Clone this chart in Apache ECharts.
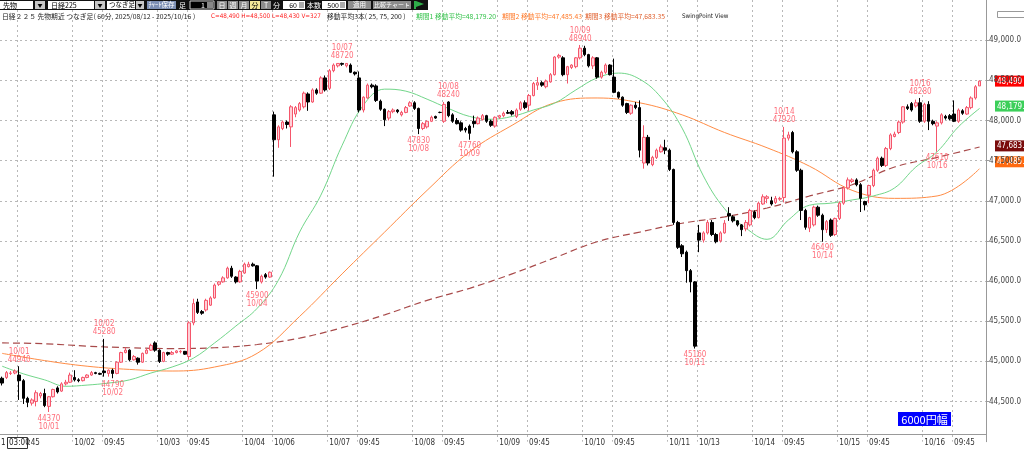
<!DOCTYPE html>
<html>
<head>
<meta charset="utf-8">
<style>
  html, body { margin: 0; padding: 0; background: #fff; }
  #chart { width: 1024px; height: 450px; }
</style>
<script src="https://cdn.jsdelivr.net/npm/echarts@6/dist/echarts.min.js"></script>
</head>
<body>
<div id="chart"></div>
<script>
// ---- time axis (60 min bars, 2025/10/01 03:00 - 2025/10/16 15:45) ----
const earlyHours = ['00:00', '01:00', '02:00', '03:00', '04:00', '05:00', '06:00'];
const dayHours = ['09:45', '10:45', '11:45', '12:45', '13:45', '14:45', '15:45'];
const lateHours = ['18:00', '19:00', '20:00', '21:00', '22:00', '23:00'];
const sessionDates = ['10/01', '10/02', '10/03', '10/04', '10/06', '10/07', '10/08', '10/09', '10/10', '10/11', '10/13', '10/14', '10/15', '10/16'];
const sessionKinds = ['first', 'full', 'full', 'sat', 'mon', 'full', 'full', 'full', 'full', 'sat', 'mon', 'full', 'full', 'last'];

// [open, close, low, high]
const candles = [
  // 10/01
  [44790, 44730, 44700, 44810], [44800, 44860, 44780, 44880], [44850, 44855, 44830, 44880], [44855, 44880, 44840, 44900],
  [44830, 44760, 44520, 44940], [44760, 44540, 44470, 44780], [44540, 44490, 44430, 44560], [44480, 44520, 44450, 44540],
  [44500, 44610, 44440, 44640], [44570, 44600, 44540, 44620], [44600, 44450, 44430, 44660], [44440, 44560, 44370, 44570],
  [44560, 44650, 44550, 44660], [44670, 44620, 44600, 44690], [44630, 44720, 44620, 44740], [44720, 44740, 44700, 44770],
  [44740, 44830, 44730, 44860],
  // 10/02
  [44800, 44770, 44750, 44890], [44770, 44760, 44740, 44790], [44760, 44800, 44750, 44810], [44800, 44830, 44790, 44840],
  [44830, 44860, 44820, 44880], [44860, 44850, 44840, 44870], [44850, 44840, 44830, 44860], [44880, 44860, 44810, 45280],
  [44850, 44890, 44810, 44900], [44890, 44850, 44790, 44910], [44850, 44990, 44840, 45000], [44990, 45110, 44980, 45120],
  [45110, 45140, 45100, 45170], [45140, 45020, 45000, 45150], [45020, 45060, 45010, 45080], [45040, 44990, 44960, 45050],
  [44990, 45100, 44980, 45110], [45100, 45140, 45090, 45160], [45140, 45200, 45130, 45220], [45230, 45140, 45120, 45250],
  // 10/03
  [45140, 45000, 44980, 45150], [45000, 45110, 44990, 45120], [45110, 45090, 45070, 45120], [45090, 45110, 45080, 45130],
  [45110, 45130, 45100, 45140], [45120, 45125, 45100, 45140], [45125, 45090, 45080, 45130], [45060, 45480, 45020, 45500],
  [45480, 45720, 45450, 45780], [45740, 45610, 45590, 45780], [45620, 45600, 45580, 45640], [45640, 45760, 45620, 45780],
  [45700, 45790, 45690, 45810], [45790, 45950, 45780, 45970], [45960, 45990, 45940, 46000], [45990, 46040, 45980, 46060],
  [46040, 46160, 46030, 46180], [46160, 46060, 46040, 46190], [46050, 45990, 45970, 46060], [45990, 46120, 45980, 46140],
  // 10/04
  [46100, 46210, 46090, 46230], [46180, 46210, 46170, 46240], [46210, 46190, 46180, 46230], [46190, 46000, 45900, 46200],
  [45990, 46060, 45970, 46080], [46080, 46050, 46030, 46100], [46050, 46110, 46040, 46120],
  // 10/06
  [48070, 47760, 47300, 48110], [47760, 47920, 47660, 47940], [47900, 47980, 47880, 48000], [47980, 47950, 47900, 48000],
  [47920, 48170, 47670, 48190], [48080, 48160, 48040, 48180], [48130, 48210, 48110, 48230], [48170, 48340, 48150, 48360],
  [48330, 48230, 48120, 48350], [48230, 48380, 48220, 48400], [48380, 48340, 48320, 48400], [48340, 48530, 48330, 48550],
  [48530, 48380, 48360, 48560],
  // 10/07
  [48400, 48620, 48380, 48640], [48620, 48690, 48600, 48710], [48680, 48710, 48660, 48715], [48710, 48700, 48680, 48720],
  [48680, 48710, 48660, 48715], [48690, 48600, 48590, 48710], [48600, 48580, 48560, 48610], [48530, 48130, 48100, 48610],
  [48130, 48290, 48100, 48300], [48280, 48440, 48270, 48460], [48440, 48420, 48400, 48460], [48430, 48250, 48230, 48450],
  [48240, 48140, 48120, 48260], [48140, 48010, 47930, 48150], [48030, 48110, 48000, 48130], [48110, 48130, 48090, 48150],
  [48130, 48110, 48090, 48140], [48070, 48100, 48050, 48120], [48100, 48160, 48090, 48180], [48180, 48220, 48170, 48240],
  // 10/08
  [48220, 48150, 48130, 48240], [48150, 47900, 47830, 48160], [47900, 47960, 47880, 47980], [47920, 47990, 47900, 48000],
  [47990, 48040, 47980, 48060], [48050, 48030, 48020, 48060], [48100, 48100, 48090, 48110], [47990, 48200, 47970, 48230],
  [48230, 48060, 48040, 48240], [48070, 47990, 47970, 48090], [48000, 47960, 47950, 48030], [47970, 47880, 47860, 47990],
  [47900, 47880, 47850, 47920], [47930, 47840, 47760, 47950], [47990, 47960, 47910, 48060], [47960, 48030, 47950, 48050],
  [48010, 48060, 48000, 48080], [48060, 47990, 47970, 48070], [47990, 47940, 47920, 48010], [47930, 48040, 47910, 48050],
  // 10/09
  [48040, 48060, 48020, 48070], [48060, 48090, 48040, 48110], [48100, 48090, 48080, 48130], [48110, 48080, 48060, 48130],
  [48050, 48130, 48030, 48150], [48140, 48220, 48120, 48240], [48220, 48160, 48140, 48250], [48190, 48310, 48120, 48330],
  [48310, 48460, 48300, 48480], [48440, 48470, 48380, 48540], [48470, 48440, 48420, 48490], [48420, 48490, 48400, 48510],
  [48480, 48570, 48470, 48590], [48570, 48790, 48560, 48800], [48790, 48810, 48770, 48830], [48780, 48570, 48550, 48800],
  [48570, 48670, 48460, 48680], [48660, 48690, 48640, 48700], [48670, 48780, 48650, 48790], [48780, 48900, 48760, 48940],
  // 10/10
  [48900, 48820, 48800, 48930], [48820, 48680, 48660, 48830], [48680, 48780, 48640, 48800], [48780, 48540, 48520, 48790],
  [48540, 48600, 48520, 48620], [48600, 48690, 48580, 48710], [48690, 48570, 48560, 48700], [48540, 48350, 48340, 48770],
  [48350, 48290, 48270, 48360], [48290, 48190, 48170, 48300], [48210, 48100, 48080, 48220], [48090, 48190, 48070, 48200],
  [48190, 48160, 48140, 48230], [48160, 47630, 47540, 48250], [47470, 47790, 47400, 47940], [47790, 47470, 47440, 47820],
  [47450, 47540, 47430, 47560], [47540, 47630, 47520, 47650], [47610, 47670, 47600, 47700], [47660, 47630, 47580, 47760],
  // 10/11
  [47630, 47390, 47370, 47650], [47390, 46730, 46700, 47400], [46730, 46420, 46400, 46750], [46440, 46340, 46300, 46460],
  [46360, 46130, 45980, 46380], [46130, 45990, 45860, 46150], [45990, 45190, 45160, 46000],
  // 10/13
  [46600, 46510, 46360, 46700], [46510, 46600, 46480, 46620], [46600, 46730, 46580, 46760], [46730, 46580, 46560, 46760],
  [46580, 46490, 46470, 46600], [46500, 46600, 46480, 46620], [46600, 46720, 46590, 46760], [46840, 46810, 46750, 46920],
  [46800, 46750, 46730, 46820], [46750, 46700, 46680, 46760], [46700, 46640, 46560, 46710], [46650, 46730, 46620, 46760],
  [46700, 46880, 46680, 46900],
  // 10/14
  [46860, 46790, 46770, 46880], [46790, 46970, 46780, 46990], [46960, 47050, 46950, 47080], [47030, 47050, 46970, 47070],
  [47000, 46960, 46940, 47050], [46980, 47030, 46960, 47060], [47020, 47030, 47000, 47050], [47040, 47780, 46980, 47920],
  [47780, 47820, 47750, 47860], [47850, 47610, 47590, 47870], [47610, 47380, 47360, 47630], [47380, 46880, 46760, 47400],
  [46880, 46670, 46640, 46900], [46660, 46790, 46610, 46800], [46700, 46920, 46680, 46940], [46920, 46820, 46800, 46940],
  [46820, 46640, 46490, 46840], [46640, 46740, 46600, 46760], [46760, 46570, 46550, 46780], [46580, 46780, 46560, 46790],
  // 10/15
  [46780, 46970, 46760, 46990], [46970, 47160, 46950, 47180], [47160, 47260, 47140, 47290], [47240, 47260, 47220, 47280],
  [47260, 47200, 47180, 47280], [47200, 47030, 46860, 47220], [46990, 46950, 46880, 47000], [47070, 47190, 46970, 47200],
  [47190, 47380, 47170, 47400], [47380, 47530, 47360, 47550], [47530, 47440, 47420, 47550], [47440, 47650, 47420, 47670],
  [47650, 47820, 47630, 47840], [47800, 47830, 47790, 47860], [47850, 47980, 47830, 48000], [47980, 48170, 47960, 48180],
  [48170, 48150, 48130, 48200], [48210, 48130, 48110, 48230], [48180, 48220, 48160, 48260], [48220, 47990, 47970, 48280],
  // 10/16
  [47990, 48200, 47970, 48220], [48200, 47990, 47880, 48240], [47990, 47960, 47940, 48010], [47930, 47970, 47610, 47990],
  [47970, 48070, 47950, 48090], [48050, 48030, 48010, 48070], [48060, 48020, 48000, 48080], [48080, 47990, 47980, 48250],
  [47990, 48130, 47970, 48150], [48120, 48090, 48070, 48140], [48080, 48160, 48070, 48180], [48160, 48280, 48140, 48300],
  [48280, 48420, 48260, 48440], [48430, 48490, 48430, 48500]
];

const ma25 = [44940, 44845, 44770, 44690, 44705, 44730, 44770, 44855, 44930, 45040, 45230, 45440, 45660, 46010, 46610, 47070,
  47690, 48190, 48390, 48365, 48265, 48150, 48050, 48015, 48050, 48130, 48215, 48380, 48530, 48590, 48515, 48290, 47905, 47310,
  46900, 46660, 46520, 46760, 46945, 46970, 47010, 47060, 47160, 47420, 47610, 47920, 48150];
const ma75 = [45100, 45010, 44940, 44900, 44880, 44930, 45100, 45560, 46090, 46610, 47130, 47610, 47940, 48220, 48280, 48220,
  48070, 47850, 47660, 47430, 47130, 47030, 47060, 47400];
const ma200 = [45230, 45220, 45190, 45170, 45160, 45170, 45210, 45290, 45420, 45580, 45760, 45910, 46090, 46290, 46490, 46610,
  46720, 46800, 46910, 47060, 47200, 47420, 47540, 47670];

// swing points
const swingIdx = [4, 11, 24, 26, 60, 80, 98, 105, 110, 136, 163, 184, 193, 216, 220];
const swingVal = [44940, 44370, 45280, 44790, 45900, 48720, 47830, 48240, 47760, 48940, 45160, 47920, 46490, 48280, 47610];
const swingDate = ['10/01', '10/01', '10/02', '10/02', '10/04', '10/07', '10/08', '10/08', '10/09', '10/09', '10/11', '10/14', '10/14', '10/16', '10/16'];
const swingKind = ['H', 'L', 'H', 'L', 'L', 'H', 'L', 'H', 'L', 'H', 'L', 'H', 'L', 'H', 'L'];

// price tags on the right axis
const tagVals = [48490, 48179.2, 47683.35, 47485.43];
const tagText = ['48,490', '48,179.2', '47,683.3', '47,485.4'];
const tagBg = ['#ff0000', '#3ccf5a', '#7a0c0c', '#ff6a10'];

const NARROW = '"Liberation Sans Narrow", "DejaVu Sans Condensed", sans-serif';
const JP = '"Liberation Sans Narrow", "Noto Sans CJK JP", sans-serif';

function hoursFor(kind) {
  if (kind === 'first') return earlyHours.slice(3).concat(dayHours, lateHours);
  if (kind === 'sat') return earlyHours;
  if (kind === 'mon') return dayHours.concat(lateHours);
  if (kind === 'last') return earlyHours.concat(dayHours);
  return earlyHours.concat(dayHours, lateHours);
}

const categories = [];
const catDate = [];
const catTime = [];
sessionDates.forEach(function (d, k) {
  hoursFor(sessionKinds[k]).forEach(function (h) {
    categories.push(d + ' ' + h);
    catDate.push(d);
    catTime.push(h);
  });
});
categories.push('');   // empty slot on the right
catDate.push('');
catTime.push('');

const nBars = candles.length;
function isTick(i) {
  if (i <= 0 || i >= nBars) return false;
  return catDate[i] !== catDate[i - 1] || catTime[i] === '09:45';
}
function tickLabel(i) {
  if (catDate[i] !== catDate[i - 1]) return catDate[i];
  return '09:45';
}

function sparse(step, vals) {
  const arr = new Array(categories.length).fill(null);
  vals.forEach(function (v, j) { arr[j * step] = v; });
  return arr;
}

const chart = echarts.init(document.getElementById('chart'));

// toolbar + header
const g = [];
function rect(x, y, w, h, fill, stroke) {
  g.push({ type: 'rect', z: 100, shape: { x: x, y: y, width: w, height: h }, style: { fill: fill, stroke: stroke || null, lineWidth: 1 } });
}
function txt(x, y, s, color, size, font, align) {
  g.push({ type: 'text', z: 101, style: { text: s, x: x, y: y, fill: color, fontSize: size || 7, fontFamily: font || JP, verticalAlign: 'middle', align: align || 'left' } });
}
rect(0, 0, 428, 10, '#111');
rect(0, 1, 33, 8, '#fff'); txt(3, 5, '先物', '#000');
rect(35, 1, 10, 8, '#c8c8c8'); txt(40, 5, '▼', '#000', 5, JP, 'center');
rect(48, 1, 46, 8, '#fff'); txt(51, 5, '日経225', '#000');
rect(95, 1, 10, 8, '#c8c8c8'); txt(100, 5, '▼', '#000', 5, JP, 'center');
rect(107, 1, 28, 8, '#fff'); txt(109, 5, 'つなぎ足', '#000', 6.5);
rect(136, 1, 8, 8, '#c8c8c8'); txt(140, 5, '▼', '#000', 5, JP, 'center');
rect(147, 1, 29, 8, '#7d8fb3'); txt(161.5, 5, 'ﾁｬｰﾄ保存', '#fff', 6.5, JP, 'center');
txt(179, 5, '足', '#fff');
rect(190, 1, 24, 8, '#000', '#ccc'); txt(205, 5, '1', '#fff', 7, JP, 'right'); rect(207, 2, 6, 6, '#888');
const spans = ['日', '週', '月', '分', 'T'];
spans.forEach(function (s, k) {
  rect(217 + k * 11, 1, 10, 8, s === '分' ? '#f2e79a' : '#8d8d8d');
  txt(222 + k * 11, 5, s, s === '分' ? '#000' : '#fff', 7, JP, 'center');
});
txt(273, 5, '分', '#fff');
rect(283, 1, 22, 8, '#fff'); txt(297, 5, '60', '#000', 7, JP, 'right'); rect(299, 2, 5, 6, '#aaa');
txt(307, 5, '本数', '#fff');
rect(322, 1, 24, 8, '#fff'); txt(339, 5, '500', '#000', 7, JP, 'right'); rect(340, 2, 5, 6, '#aaa');
rect(348, 1, 23, 8, '#8d8d8d'); txt(359.5, 5, '適用', '#fff', 6.5, JP, 'center');
rect(373, 1, 38, 8, '#8d8d8d'); txt(392, 5, '比較チャート', '#fff', 6, JP, 'center');
g.push({ type: 'polygon', z: 100, shape: { points: [[414, 1], [416, 1], [424, 4], [416, 7], [416, 9], [414, 9]] }, style: { fill: '#2fae4a' } });

txt(2, 16.5, '日経２２５ 先物期近 つなぎ足( 60分, 2025/08/12 - 2025/10/16 )', '#222', 6.8);
txt(211, 16.5, 'C=48,490 H=48,500 L=48,430 V=327', '#ff2222', 6.3, NARROW);
txt(327, 16.5, '移動平均3本( 25, 75, 200 )', '#222', 6.8);
txt(416, 16.5, '期間1 移動平均=48,179.20', '#33c24a', 6.8);
txt(502, 16.5, '期間2 移動平均=47,485.43', '#ff7a2a', 6.8);
txt(585, 16.5, '期間3 移動平均=47,683.35', '#e0602e', 6.8);
txt(682, 16.5, 'SwingPoint View', '#222', 6.3, NARROW);
rect(997.5, 11.5, 28, 6, '#fff', '#999');

// bottom-left cursor box and bottom-right badge
rect(0, 437, 28, 12, '#fff');
txt(1, 443, '1', '#222', 8, NARROW);
rect(7.5, 437.5, 20, 11, '#fff', '#333');
txt(9, 443, '03:00', '#222', 8, NARROW);
rect(898, 412, 53, 14, '#0000ff');
txt(924.5, 419.5, '6000円幅', '#fff', 11, '"Noto Sans CJK JP", sans-serif', 'center');

chart.setOption({
  animation: false,
  backgroundColor: '#fff',
  grid: { left: 0, right: 30, top: 0, bottom: 8.3 },
  xAxis: {
    type: 'category',
    data: categories,
    boundaryGap: true,
    offset: -7,
    axisLine: { lineStyle: { color: '#999' } },
    axisTick: { interval: function (i) { return isTick(i); }, length: 3, alignWithLabel: true, lineStyle: { color: '#888' } },
    axisLabel: {
      interval: function (i) { return isTick(i); },
      formatter: function (v, i) { return tickLabel(i); },
      align: 'left', margin: 4, fontSize: 8, color: '#333', fontFamily: NARROW
    },
    splitLine: { show: true, interval: function (i) { return isTick(i); }, lineStyle: { color: '#b8b8b8', type: [2, 3] } }
  },
  yAxis: {
    type: 'value',
    position: 'right',
    min: 44000,
    max: 49500,
    interval: 500,
    axisLine: { show: true, lineStyle: { color: '#999' } },
    axisTick: { show: true, length: 3, lineStyle: { color: '#999' } },
    axisLabel: {
      showMinLabel: false, showMaxLabel: false, margin: 3, fontSize: 8, color: '#444', fontFamily: NARROW,
      formatter: function (v) { return v.toLocaleString('en-US') + '.0'; }
    },
    splitLine: { show: true, showMinLine: false, showMaxLine: false, lineStyle: { color: '#b8b8b8', type: [2, 3] } }
  },
  series: [
    {
      type: 'line', data: sparse(10, ma200), connectNulls: true, smooth: 0.4, showSymbol: false, silent: true,
      lineStyle: { color: '#a84a4a', width: 1.2, type: [7, 4] }, z: 1
    },
    {
      type: 'line', data: sparse(10, ma75), connectNulls: true, smooth: 0.4, showSymbol: false, silent: true,
      lineStyle: { color: '#ff8c45', width: 1 }, z: 1
    },
    {
      type: 'line', data: sparse(5, ma25), connectNulls: true, smooth: 0.4, showSymbol: false, silent: true,
      lineStyle: { color: '#72d68a', width: 1 }, z: 1
    },
    {
      type: 'candlestick',
      data: candles,
      barWidth: 3,
      z: 3,
      itemStyle: { color: '#ffd0d7', color0: '#000', borderColor: '#f5566b', borderColor0: '#000', borderColorDoji: '#000', borderWidth: 1 }
    },
    {
      type: 'scatter', symbolSize: 1, silent: true, z: 4,
      itemStyle: { color: 'rgba(0,0,0,0)' },
      data: swingIdx.map(function (ix, k) {
        const hi = swingKind[k] === 'H';
        return {
          value: [ix, swingVal[k]],
          label: {
            show: true, position: hi ? 'top' : 'bottom', distance: 2,
            formatter: hi ? swingDate[k] + '\n' + swingVal[k] : swingVal[k] + '\n' + swingDate[k],
            color: '#ff4a5a', fontSize: 8, lineHeight: 8, fontFamily: NARROW, align: 'center'
          }
        };
      })
    }
  ],
  graphic: g
});

// value tags on the right axis, placed through the y scale
const tags = tagVals.map(function (v, k) {
  const y = chart.convertToPixel({ yAxisIndex: 0 }, v);
  return {
    type: 'group', z: 102,
    children: [
      { type: 'rect', shape: { x: 995, y: y - 5.5, width: 30, height: 11 }, style: { fill: tagBg[k] } },
      { type: 'text', style: { text: tagText[k], x: 997, y: y + 0.5, fill: '#fff', fontSize: 8, fontFamily: NARROW, verticalAlign: 'middle' } }
    ]
  };
});
chart.setOption({ graphic: g.concat(tags) });
</script>
</body>
</html>
